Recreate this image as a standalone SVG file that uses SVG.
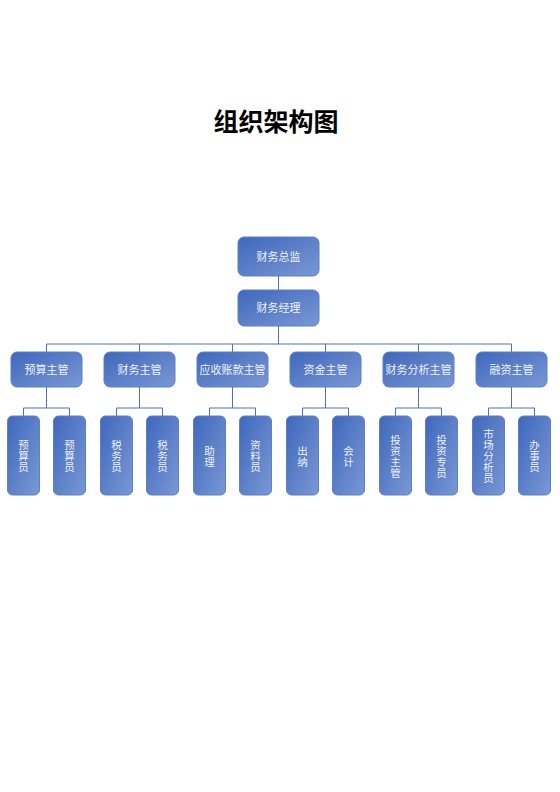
<svg xmlns="http://www.w3.org/2000/svg" width="560" height="792" viewBox="0 0 560 792">
<defs>
<linearGradient id="g" x1="0" y1="0" x2="1" y2="1">
<stop offset="0" stop-color="#3F67BC"/>
<stop offset="1" stop-color="#7A98D4"/>
</linearGradient>
<style>
.b{fill:url(#g);stroke:#5B80C9;stroke-width:1}
.t{font-family:"Noto Sans CJK SC","Noto Sans",sans-serif;font-size:11px;fill:#EEF2FA;text-anchor:middle}
.v{font-family:"Noto Sans CJK SC","Noto Sans",sans-serif;font-size:10.5px;fill:#EEF2FA;text-anchor:middle}
.c{fill:none;stroke:#4A72C0;stroke-width:1}
.title{font-family:"Noto Sans CJK SC","Noto Sans",sans-serif;font-size:25px;font-weight:bold;fill:#000;text-anchor:middle}
</style>
</defs>
<rect width="560" height="792" fill="#fff"/>
<text class="title" x="276" y="131">组织架构图</text>
<g id="connectors">
<path class="c" d="M278.5 276V290M278.5 326V344M46.5 344H511.5"/>
<path class="c" d="M46.5 344V352M139.5 344V352M232.5 344V352M325.5 344V352M418.5 344V352M511.5 344V352"/>
<path class="c" d="M46.5 387V408M23.5 416V408H69.5V416"/>
<path class="c" d="M139.5 387V408M116.5 416V408H162.5V416"/>
<path class="c" d="M232.5 387V408M209.5 416V408H255.5V416"/>
<path class="c" d="M325.5 387V408M302.5 416V408H348.5V416"/>
<path class="c" d="M418.5 387V408M395.5 416V408H441.5V416"/>
<path class="c" d="M511.5 387V408M488.5 416V408H534.5V416"/>
</g>
<g id="n-zongjian"><rect class="b" x="238" y="237" width="81" height="39" rx="6"/><text class="t" x="278.5" y="260.5">财务总监</text></g>
<g id="n-jingli"><rect class="b" x="238" y="290" width="81" height="36" rx="6"/><text class="t" x="278.5" y="312">财务经理</text></g>
<g id="n-yusuanzhuguan"><rect class="b" x="11" y="352" width="71" height="35" rx="6"/><text class="t" x="46.5" y="373.5">预算主管</text></g>
<g id="n-caiwuzhuguan"><rect class="b" x="104" y="352" width="71" height="35" rx="6"/><text class="t" x="139.5" y="373.5">财务主管</text></g>
<g id="n-yingshou"><rect class="b" x="197" y="352" width="71" height="35" rx="6"/><text class="t" x="232.5" y="373.5">应收账款主管</text></g>
<g id="n-zijin"><rect class="b" x="290" y="352" width="71" height="35" rx="6"/><text class="t" x="325.5" y="373.5">资金主管</text></g>
<g id="n-fenxi"><rect class="b" x="383" y="352" width="71" height="35" rx="6"/><text class="t" x="418.5" y="373.5">财务分析主管</text></g>
<g id="n-rongzi"><rect class="b" x="476" y="352" width="71" height="35" rx="6"/><text class="t" x="511.5" y="373.5">融资主管</text></g>
<g id="n-ysy1"><rect class="b" x="7.5" y="416" width="32" height="79" rx="5"/><text class="v" x="23.5"><tspan x="23.5" y="449">预</tspan><tspan x="23.5" y="460">算</tspan><tspan x="23.5" y="471">员</tspan></text></g>
<g id="n-ysy2"><rect class="b" x="53.5" y="416" width="32" height="79" rx="5"/><text class="v" x="69.5"><tspan x="69.5" y="449">预</tspan><tspan x="69.5" y="460">算</tspan><tspan x="69.5" y="471">员</tspan></text></g>
<g id="n-swy1"><rect class="b" x="100.5" y="416" width="32" height="79" rx="5"/><text class="v" x="116.5"><tspan x="116.5" y="449">税</tspan><tspan x="116.5" y="460">务</tspan><tspan x="116.5" y="471">员</tspan></text></g>
<g id="n-swy2"><rect class="b" x="146.5" y="416" width="32" height="79" rx="5"/><text class="v" x="162.5"><tspan x="162.5" y="449">税</tspan><tspan x="162.5" y="460">务</tspan><tspan x="162.5" y="471">员</tspan></text></g>
<g id="n-zhuli"><rect class="b" x="193.5" y="416" width="32" height="79" rx="5"/><text class="v" x="209.5"><tspan x="209.5" y="454.5">助</tspan><tspan x="209.5" y="465.5">理</tspan></text></g>
<g id="n-ziliaoyuan"><rect class="b" x="239.5" y="416" width="32" height="79" rx="5"/><text class="v" x="255.5"><tspan x="255.5" y="449">资</tspan><tspan x="255.5" y="460">料</tspan><tspan x="255.5" y="471">员</tspan></text></g>
<g id="n-chuna"><rect class="b" x="286.5" y="416" width="32" height="79" rx="5"/><text class="v" x="302.5"><tspan x="302.5" y="454.5">出</tspan><tspan x="302.5" y="465.5">纳</tspan></text></g>
<g id="n-kuaiji"><rect class="b" x="332.5" y="416" width="32" height="79" rx="5"/><text class="v" x="348.5"><tspan x="348.5" y="454.5">会</tspan><tspan x="348.5" y="465.5">计</tspan></text></g>
<g id="n-touzizhuguan"><rect class="b" x="379.5" y="416" width="32" height="79" rx="5"/><text class="v" x="395.5"><tspan x="395.5" y="443.5">投</tspan><tspan x="395.5" y="454.5">资</tspan><tspan x="395.5" y="465.5">主</tspan><tspan x="395.5" y="476.5">管</tspan></text></g>
<g id="n-touzizhuanyuan"><rect class="b" x="425.5" y="416" width="32" height="79" rx="5"/><text class="v" x="441.5"><tspan x="441.5" y="443.5">投</tspan><tspan x="441.5" y="454.5">资</tspan><tspan x="441.5" y="465.5">专</tspan><tspan x="441.5" y="476.5">员</tspan></text></g>
<g id="n-shichang"><rect class="b" x="472.5" y="416" width="32" height="79" rx="5"/><text class="v" x="488.5"><tspan x="488.5" y="438">市</tspan><tspan x="488.5" y="449">场</tspan><tspan x="488.5" y="460">分</tspan><tspan x="488.5" y="471">析</tspan><tspan x="488.5" y="482">员</tspan></text></g>
<g id="n-banshiyuan"><rect class="b" x="518.5" y="416" width="32" height="79" rx="5"/><text class="v" x="534.5"><tspan x="534.5" y="449">办</tspan><tspan x="534.5" y="460">事</tspan><tspan x="534.5" y="471">员</tspan></text></g>
</svg>
